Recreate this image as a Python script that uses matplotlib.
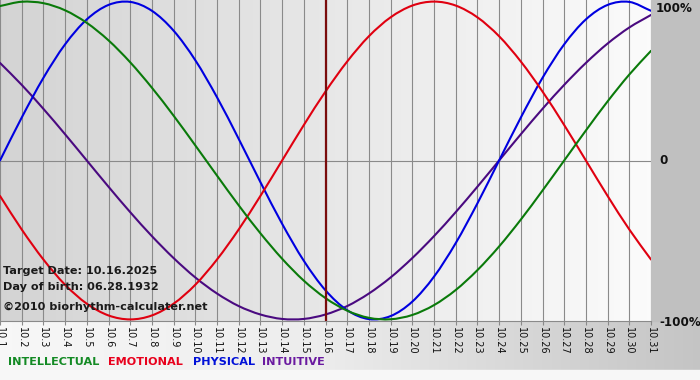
import numpy as np
import matplotlib
matplotlib.use("Agg")
import matplotlib.pyplot as plt
from matplotlib.patches import Rectangle, PathPatch
from matplotlib.path import Path

# ---- data ----
day_labels = ["10.1", "10.2", "10.3", "10.4", "10.5", "10.6", "10.7", "10.8", "10.9", "10.10",
              "10.11", "10.12", "10.13", "10.14", "10.15", "10.16", "10.17", "10.18", "10.19", "10.20",
              "10.21", "10.22", "10.23", "10.24", "10.25", "10.26", "10.27", "10.28", "10.29", "10.30",
              "10.31"]
physical = [0.000, 0.270, 0.520, 0.731, 0.888, 0.979, 0.998, 0.942, 0.817, 0.631, 0.398, 0.136,
            -0.136, -0.398, -0.631, -0.817, -0.942, -0.998, -0.979, -0.888, -0.731, -0.520, -0.270,
            0.000, 0.270, 0.520, 0.731, 0.888, 0.979, 0.998, 0.942]
emotional = [-0.223, -0.434, -0.623, -0.782, -0.901, -0.975, -1.000, -0.975, -0.901, -0.782, -0.623,
             -0.434, -0.223, 0.000, 0.223, 0.434, 0.623, 0.782, 0.901, 0.975, 1.000, 0.975, 0.901,
             0.782, 0.623, 0.434, 0.223, 0.000, -0.223, -0.434, -0.623]
intellectual = [0.972, 0.999, 0.990, 0.945, 0.866, 0.756, 0.618, 0.458, 0.282, 0.095, -0.095, -0.282,
                -0.458, -0.618, -0.756, -0.866, -0.945, -0.990, -0.999, -0.972, -0.910, -0.815,
                -0.690, -0.541, -0.372, -0.189, 0.000, 0.189, 0.372, 0.541, 0.690]
intuitive = [0.614, 0.476, 0.325, 0.165, 0.000, -0.165, -0.325, -0.476, -0.614, -0.736, -0.837,
             -0.916, -0.969, -0.997, -0.997, -0.969, -0.916, -0.837, -0.736, -0.614, -0.476, -0.325,
             -0.165, 0.000, 0.165, 0.325, 0.476, 0.614, 0.736, 0.837, 0.916]
target_day = "10.16"
series_names = ["INTELLECTUAL", "EMOTIONAL", "PHYSICAL", "INTUITIVE"]
y_labels = ["100%", "0", "-100%"]
info_lines = ["Target Date: 10.16.2025", "Day of birth: 06.28.1932", "\u00a92010 biorhythm-calculater.net"]

# ---- styling ----
W, H = 700, 380
c_int, c_emo, c_phy, c_itu = "#0a7a0a", "#e00010", "#0000e0", "#4a0a80"
legend_colors = ["#138a24", "#e8001c", "#0010d8", "#6a1aa0"]
grid_c = "#8a8a8a"
font = "DejaVu Sans"


def smooth_path(xs, ys):
    """Smooth (Catmull-Rom style Bezier) path drawn through the data points."""
    xs = np.asarray(xs, float)
    ys = np.asarray(ys, float)
    px = np.concatenate([[2 * xs[0] - xs[1]], xs, [2 * xs[-1] - xs[-2]]])
    py = np.concatenate([[2 * ys[0] - ys[1]], ys, [2 * ys[-1] - ys[-2]]])
    verts = [(xs[0], ys[0])]
    codes = [Path.MOVETO]
    for i in range(1, len(px) - 2):
        c1 = (px[i] + (px[i + 1] - px[i - 1]) / 6, py[i] + (py[i + 1] - py[i - 1]) / 6)
        c2 = (px[i + 1] - (px[i + 2] - px[i]) / 6, py[i + 1] - (py[i + 2] - py[i]) / 6)
        verts += [c1, c2, (px[i + 1], py[i + 1])]
        codes += [Path.CURVE4] * 3
    return Path(verts, codes)


fig = plt.figure(figsize=(W / 100, H / 100), dpi=100)

# background of whole figure
bg = fig.add_axes([0, 0, 1, 1])
bg.set_xlim(0, W)
bg.set_ylim(H, 0)
bg.axis("off")
grad = np.linspace(0, 1, 256)
strip = np.interp(grad, [0, 0.45, 1.0], [0.97, 0.93, 0.77])
strip_img = np.dstack([np.tile(strip, (2, 1))] * 3)
bg.imshow(strip_img, extent=(0, W, 370, 321), aspect="auto", interpolation="bilinear", zorder=0)
bg.add_patch(Rectangle((0, 370), W, 10, color="#f7f7f7", zorder=0))
bg.add_patch(Rectangle((651, 0), W - 651, 321, color="#c0c0c0", zorder=1))

# plot area
ax = fig.add_axes([0, 1 - 321 / H, 651 / W, 321 / H])
x = np.arange(len(day_labels))
ax.set_xlim(0, len(day_labels) - 1)
ax.set_ylim(-1.01, 1.01)
plot_bg = np.interp(grad, [0, 1], [0.83, 0.985])
ax.imshow(np.dstack([np.tile(plot_bg, (2, 1))] * 3), extent=(0, len(day_labels) - 1, -1.01, 1.01),
          aspect="auto", interpolation="bilinear", zorder=0)

for xi in x:
    ax.axvline(xi, color=grid_c, lw=0.8, zorder=1)
ax.axhline(0, color=grid_c, lw=0.8, zorder=1)

for vals, col in [(intuitive, c_itu), (physical, c_phy), (emotional, c_emo), (intellectual, c_int)]:
    ax.add_patch(PathPatch(smooth_path(x, vals), fill=False, edgecolor=col, lw=1.5, zorder=3,
                           capstyle="round", joinstyle="round"))

ax.axvline(day_labels.index(target_day), color="#7a0c0c", lw=1.6, zorder=4)

for s in ["top", "left", "right"]:
    ax.spines[s].set_visible(False)
ax.spines["bottom"].set_color(grid_c)
ax.spines["bottom"].set_linewidth(0.8)
ax.set_yticks([])
ax.set_xticks(x)
ax.set_xticklabels(day_labels, rotation=270, fontsize=7, family=font)
ax.tick_params(axis="x", length=3, color=grid_c, pad=1.5, labelcolor="#111111")

for i, t in enumerate(info_lines):
    ax.text(3 / 651, 1 - [271, 287, 307][i] / 321, t, transform=ax.transAxes, fontsize=8.1,
            fontweight="bold", family=font, color="#1a1a1a", va="center", ha="left", zorder=5)

# right side labels
for lab, yy, xx in zip(y_labels, [8, 161, 322], [656, 659, 659]):
    fig.text(xx / W, 1 - yy / H, lab, fontsize=8.6, fontweight="bold", family=font,
             color="#111111", ha="left", va="center")

# legend words
for name, col, xx in zip(series_names, legend_colors, [8, 108, 193, 262]):
    fig.text(xx / W, 1 - 362 / H, name, fontsize=8.1, fontweight="bold", family=font,
             color=col, ha="left", va="center")

fig.savefig("out.png", dpi=100)
